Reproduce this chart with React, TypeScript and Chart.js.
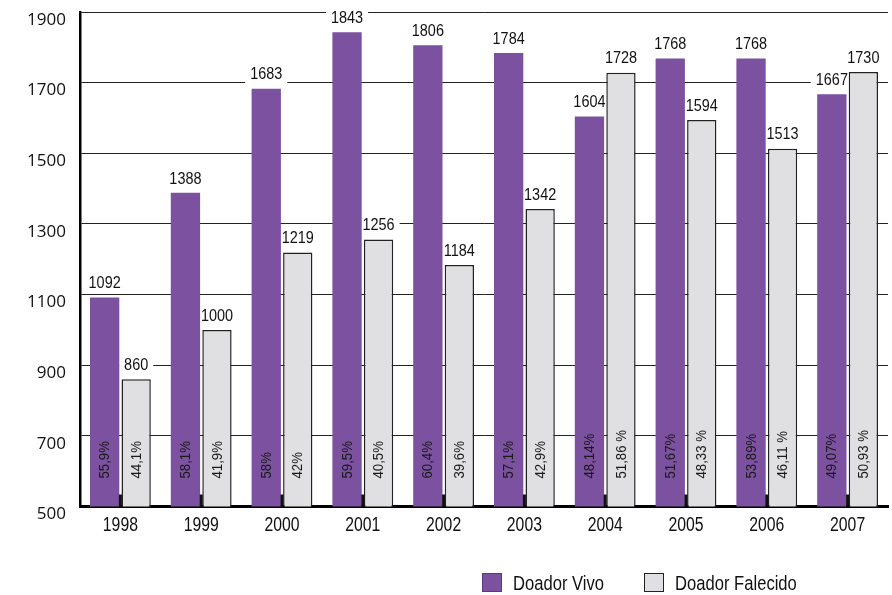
import React, { useEffect, useRef } from "react";
import { Chart, registerables } from "chart.js";

Chart.register(...registerables);

const years = ["1998", "1999", "2000", "2001", "2002", "2003", "2004", "2005", "2006", "2007"];
const vivo = [1092, 1388, 1683, 1843, 1806, 1784, 1604, 1768, 1768, 1667];
const falecido = [860, 1000, 1219, 1256, 1184, 1342, 1728, 1594, 1513, 1730];
const vivoPct = ["55,9%", "58,1%", "58%", "59,5%", "60,4%", "57,1%", "48,14%", "51,67%", "53,89%", "49,07%"];
const falecidoPct = ["44,1%", "41,9%", "42%", "40,5%", "39,6%", "42,9%", "51,86 %", "48,33 %", "46,11 %", "50,93 %"];
const seriesNames = ["Doador Vivo", "Doador Falecido"];

const PURPLE = "#7B51A0";
const GREY = "#E0E0E2";
const SANS = "'Liberation Sans', Arial, sans-serif";

function condensedText(
  ctx: CanvasRenderingContext2D,
  text: string,
  x: number,
  y: number,
  size: number,
  sx: number,
  align: CanvasTextAlign
) {
  ctx.save();
  ctx.translate(x, y);
  ctx.scale(sx, 1);
  ctx.font = `${size}px ${SANS}`;
  ctx.textAlign = align;
  ctx.textBaseline = "middle";
  ctx.fillText(text, 0, 0);
  ctx.restore();
}

const labelPlugin = {
  id: "barLabels",
  beforeDatasetsDraw(chart: any) {
    const ctx = chart.ctx;
    ctx.save();
    chart.data.datasets.forEach((ds: any, di: number) => {
      const meta = chart.getDatasetMeta(di);
      meta.data.forEach((el: any, i: number) => {
        const txt = String(ds.data[i]);
        ctx.font = `17px ${SANS}`;
        const w = ctx.measureText(txt).width * 0.85;
        const ly = el.y - 14;
        ctx.fillStyle = "#fff";
        ctx.fillRect(el.x - w / 2 - 5, ly - 9, w + 10, 18);
      });
    });
    ctx.restore();
  },
  afterDatasetsDraw(chart: any) {
    const ctx = chart.ctx;
    const pctSets = [vivoPct, falecidoPct];
    const xScale = chart.scales.x;
    const bottom = chart.chartArea.bottom;
    ctx.save();
    years.forEach((y, i) => {
      const cx = xScale.getPixelForValue(i);
      ctx.fillStyle = "#111";
      ctx.fillRect(cx - 1.5, bottom - 12, 3, 12);
      condensedText(ctx, y, cx, bottom + 19, 20.5, 0.77, "center");
    });
    chart.data.datasets.forEach((ds: any, di: number) => {
      const meta = chart.getDatasetMeta(di);
      meta.data.forEach((el: any, i: number) => {
        const txt = String(ds.data[i]);
        const ly = el.y - 14;
        ctx.fillStyle = "#111";
        condensedText(ctx, txt, el.x, ly, 17, 0.85, "center");
        ctx.save();
        ctx.translate(el.x + 0.5, bottom - 28);
        ctx.rotate(-Math.PI / 2);
        ctx.fillStyle = "#1a1a1a";
        condensedText(ctx, pctSets[di][i], 0, 0, 15, 0.88, "left");
        ctx.restore();
      });
    });
    ctx.restore();
  },
};

export default function App() {
  const ref = useRef<HTMLCanvasElement>(null);
  useEffect(() => {
    if (!ref.current) return;
    const chart = new Chart(ref.current, {
      type: "bar",
      data: {
        labels: years,
        datasets: [
          {
            label: seriesNames[0],
            data: vivo,
            backgroundColor: PURPLE,
            borderWidth: 0,
            categoryPercentage: 0.78,
            barPercentage: 0.93,
          },
          {
            label: seriesNames[1],
            data: falecido,
            backgroundColor: GREY,
            borderColor: "#222",
            borderWidth: 1.5,
            borderSkipped: "bottom",
            categoryPercentage: 0.78,
            barPercentage: 0.93,
          },
        ],
      },
      options: {
        animation: false,
        responsive: false,
        maintainAspectRatio: false,
        layout: { padding: { top: 12, right: 4, left: 0, bottom: 0 } },
        plugins: {
          legend: { display: false },
          tooltip: { enabled: false },
        },
        scales: {
          x: {
            grid: { display: false, drawTicks: false },
            border: { display: true, color: "#000", width: 3 },
            ticks: { display: false },
            afterFit(scale: any) {
              scale.height = 88.5;
              scale.paddingLeft = 0;
              scale.paddingRight = 0;
            },
          },
          y: {
            min: 500,
            max: 1900,
            grid: { color: "#222", lineWidth: 1, drawTicks: false },
            border: { display: true, color: "#000", width: 2.5 },
            ticks: {
              stepSize: 200,
              color: "#111",
              padding: 14,
              labelOffset: 8,
              font: { family: "'Open Sans', sans-serif", size: 17 },
              callback: (v: any) => String(v),
            },
            afterFit(scale: any) {
              scale.width = 80;
              scale.paddingTop = 0;
              scale.paddingBottom = 0;
            },
          },
        },
      },
      plugins: [labelPlugin],
    });
    return () => chart.destroy();
  }, []);

  const legendItem = (color: string, border: string, text: string, left: number) => (
    <div
      style={{
        position: "absolute",
        left,
        top: 573,
        height: 19,
        display: "flex",
        alignItems: "center",
        fontFamily: SANS,
        fontSize: 20.5,
        color: "#111",
        whiteSpace: "nowrap",
      }}
    >
      <div
        style={{
          width: 20,
          height: 19,
          boxSizing: "border-box",
          background: color,
          border,
          marginRight: 11,
          flex: "none",
        }}
      />
      <span style={{ display: "inline-block", transform: "scaleX(0.81)", transformOrigin: "left center" }}>
        {text}
      </span>
    </div>
  );

  return (
    <div style={{ position: "fixed", left: 0, top: 0, width: 892, height: 595, background: "#fff" }}>
      <canvas ref={ref} width={892} height={595} style={{ position: "absolute", left: 0, top: 0 }} />
      {legendItem(PURPLE, "1px solid #5a3a7a", seriesNames[0], 482)}
      {legendItem(GREY, "1.5px solid #222", seriesNames[1], 644)}
    </div>
  );
}
